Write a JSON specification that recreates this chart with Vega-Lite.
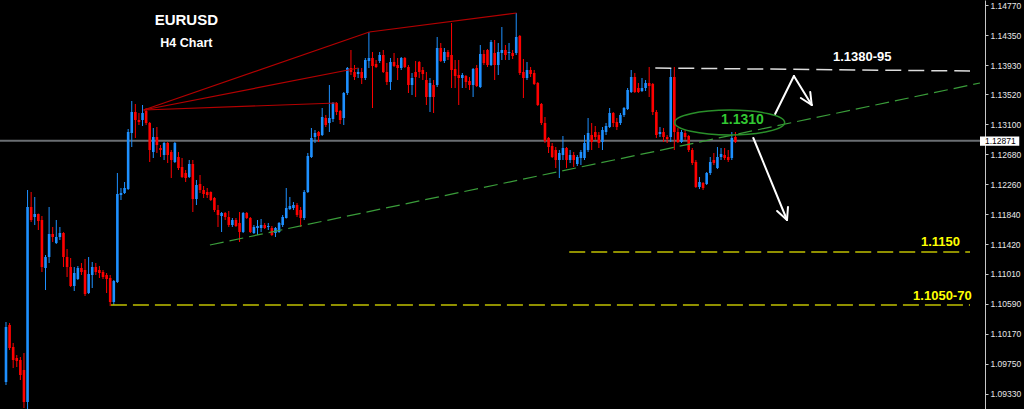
{
"$schema":"https://vega.github.io/schema/vega-lite/v6.json",
"width":985,"height":409,"autosize":"none",
"padding":{"left":0,"top":0,"right":39,"bottom":0},
"background":"#000000",
"config":{"view":{"stroke":null},"axis":{"grid":false,"domainColor":"#c8c8c8","tickColor":"#c8c8c8","tickSize":3,"labelPadding":2,"labelColor":"#e8e8e8","labelFont":"Liberation Sans","labelFontSize":8.5,"labelFlush":false,"labelOverlap":false,"title":null}},
"datasets":{
"candles":[
{"i":1,"o":1.09492,"h":1.10332,"l":1.0945,"c":1.10262},
{"i":2,"o":1.1029,"h":1.10318,"l":1.0994,"c":1.09968},
{"i":3,"o":1.09982,"h":1.10038,"l":1.09688,"c":1.098},
{"i":4,"o":1.09828,"h":1.0987,"l":1.09702,"c":1.09786},
{"i":5,"o":1.098,"h":1.09842,"l":1.0952,"c":1.0959},
{"i":6,"o":1.0966,"h":1.09898,"l":1.09128,"c":1.09212},
{"i":7,"o":1.09212,"h":1.1218,"l":1.091,"c":1.11942},
{"i":8,"o":1.11942,"h":1.12152,"l":1.11732,"c":1.1176},
{"i":9,"o":1.11802,"h":1.12082,"l":1.1169,"c":1.11844},
{"i":10,"o":1.11844,"h":1.1185,"l":1.1162,"c":1.11746},
{"i":11,"o":1.1176,"h":1.11816,"l":1.11032,"c":1.11102},
{"i":12,"o":1.11088,"h":1.1127,"l":1.1078,"c":1.11242},
{"i":13,"o":1.11242,"h":1.11942,"l":1.11158,"c":1.11564},
{"i":14,"o":1.11564,"h":1.11662,"l":1.11452,"c":1.11522},
{"i":15,"o":1.11438,"h":1.1176,"l":1.11424,"c":1.11522},
{"i":16,"o":1.11522,"h":1.11662,"l":1.1148,"c":1.11578},
{"i":17,"o":1.11578,"h":1.1159,"l":1.11102,"c":1.11242},
{"i":18,"o":1.11242,"h":1.11354,"l":1.10962,"c":1.11102},
{"i":19,"o":1.11102,"h":1.11228,"l":1.10822,"c":1.10836},
{"i":20,"o":1.10836,"h":1.11102,"l":1.10766,"c":1.11018},
{"i":21,"o":1.10934,"h":1.11116,"l":1.1092,"c":1.11088},
{"i":22,"o":1.11088,"h":1.11158,"l":1.1099,"c":1.11032},
{"i":23,"o":1.1106,"h":1.11214,"l":1.10696,"c":1.10724},
{"i":24,"o":1.10738,"h":1.11242,"l":1.10724,"c":1.11004},
{"i":25,"o":1.1099,"h":1.11172,"l":1.10808,"c":1.11102},
{"i":26,"o":1.11102,"h":1.11158,"l":1.1099,"c":1.11032},
{"i":27,"o":1.1106,"h":1.11116,"l":1.10948,"c":1.11018},
{"i":28,"o":1.11032,"h":1.1106,"l":1.10934,"c":1.10962},
{"i":29,"o":1.1099,"h":1.11018,"l":1.10738,"c":1.10934},
{"i":30,"o":1.10948,"h":1.1099,"l":1.10556,"c":1.10612},
{"i":31,"o":1.10612,"h":1.1092,"l":1.1057,"c":1.10906},
{"i":32,"o":1.10892,"h":1.12418,"l":1.10878,"c":1.12124},
{"i":33,"o":1.1211,"h":1.12208,"l":1.1204,"c":1.12138},
{"i":34,"o":1.12138,"h":1.12292,"l":1.12124,"c":1.12208},
{"i":35,"o":1.12194,"h":1.13034,"l":1.1218,"c":1.12992},
{"i":36,"o":1.12978,"h":1.13426,"l":1.12782,"c":1.13272},
{"i":37,"o":1.13272,"h":1.13384,"l":1.12908,"c":1.1316},
{"i":38,"o":1.1316,"h":1.13258,"l":1.1309,"c":1.13132},
{"i":39,"o":1.1316,"h":1.1337,"l":1.13076,"c":1.13258},
{"i":40,"o":1.13286,"h":1.13328,"l":1.1309,"c":1.13118},
{"i":41,"o":1.13118,"h":1.13132,"l":1.12572,"c":1.1274},
{"i":42,"o":1.12712,"h":1.13048,"l":1.12628,"c":1.12922},
{"i":43,"o":1.12922,"h":1.13062,"l":1.12698,"c":1.1281},
{"i":44,"o":1.12768,"h":1.1281,"l":1.12642,"c":1.1274},
{"i":45,"o":1.1267,"h":1.12852,"l":1.126,"c":1.12838},
{"i":46,"o":1.12838,"h":1.12852,"l":1.12558,"c":1.1267},
{"i":47,"o":1.12712,"h":1.1274,"l":1.12348,"c":1.126},
{"i":48,"o":1.12572,"h":1.12852,"l":1.12558,"c":1.12838},
{"i":49,"o":1.12642,"h":1.12712,"l":1.1246,"c":1.12488},
{"i":50,"o":1.12502,"h":1.12628,"l":1.12348,"c":1.12362},
{"i":51,"o":1.12418,"h":1.1246,"l":1.12292,"c":1.12348},
{"i":52,"o":1.12362,"h":1.126,"l":1.12348,"c":1.12544},
{"i":53,"o":1.12544,"h":1.126,"l":1.11872,"c":1.12054},
{"i":54,"o":1.12054,"h":1.1232,"l":1.1197,"c":1.1225},
{"i":55,"o":1.12264,"h":1.1239,"l":1.12138,"c":1.1218},
{"i":56,"o":1.1218,"h":1.12236,"l":1.12068,"c":1.12124},
{"i":57,"o":1.12152,"h":1.12208,"l":1.12068,"c":1.1211},
{"i":58,"o":1.12152,"h":1.1216,"l":1.12026,"c":1.1204},
{"i":59,"o":1.12068,"h":1.12082,"l":1.11872,"c":1.119},
{"i":60,"o":1.119,"h":1.1197,"l":1.11662,"c":1.1183},
{"i":61,"o":1.11816,"h":1.11872,"l":1.11592,"c":1.11858},
{"i":62,"o":1.11858,"h":1.11872,"l":1.1176,"c":1.11802},
{"i":63,"o":1.11802,"h":1.11886,"l":1.11662,"c":1.1169},
{"i":64,"o":1.1169,"h":1.11788,"l":1.11662,"c":1.1176},
{"i":65,"o":1.1176,"h":1.11788,"l":1.11662,"c":1.11676},
{"i":66,"o":1.11718,"h":1.11872,"l":1.11452,"c":1.11592},
{"i":67,"o":1.11592,"h":1.11872,"l":1.11578,"c":1.11858},
{"i":68,"o":1.11858,"h":1.11872,"l":1.11774,"c":1.11788},
{"i":69,"o":1.11788,"h":1.11802,"l":1.11578,"c":1.11592},
{"i":70,"o":1.11578,"h":1.1169,"l":1.11564,"c":1.11662},
{"i":71,"o":1.11648,"h":1.1176,"l":1.1155,"c":1.11676},
{"i":72,"o":1.11648,"h":1.11774,"l":1.11592,"c":1.1169},
{"i":73,"o":1.1169,"h":1.11718,"l":1.11634,"c":1.11648},
{"i":74,"o":1.11662,"h":1.11718,"l":1.1162,"c":1.11676},
{"i":75,"o":1.11648,"h":1.11676,"l":1.11536,"c":1.1155},
{"i":76,"o":1.11578,"h":1.11662,"l":1.11522,"c":1.11648},
{"i":77,"o":1.11592,"h":1.11732,"l":1.1158,"c":1.11718},
{"i":78,"o":1.1169,"h":1.1183,"l":1.11662,"c":1.11802},
{"i":79,"o":1.11788,"h":1.12208,"l":1.1178,"c":1.11928},
{"i":80,"o":1.11914,"h":1.12082,"l":1.119,"c":1.11956},
{"i":81,"o":1.11928,"h":1.12012,"l":1.119,"c":1.1197},
{"i":82,"o":1.1197,"h":1.11998,"l":1.11802,"c":1.1183},
{"i":83,"o":1.119,"h":1.11942,"l":1.11662,"c":1.11788},
{"i":84,"o":1.11788,"h":1.1218,"l":1.1176,"c":1.12152},
{"i":85,"o":1.12152,"h":1.12698,"l":1.12138,"c":1.12656},
{"i":86,"o":1.12642,"h":1.13048,"l":1.12628,"c":1.12908},
{"i":87,"o":1.12922,"h":1.1302,"l":1.12838,"c":1.12978},
{"i":88,"o":1.12992,"h":1.13006,"l":1.12852,"c":1.12936},
{"i":89,"o":1.1295,"h":1.13328,"l":1.12936,"c":1.13202},
{"i":90,"o":1.13188,"h":1.1323,"l":1.13062,"c":1.1309},
{"i":91,"o":1.13118,"h":1.1365,"l":1.12992,"c":1.13188},
{"i":92,"o":1.13174,"h":1.13412,"l":1.13132,"c":1.13398},
{"i":93,"o":1.13398,"h":1.13412,"l":1.1323,"c":1.13272},
{"i":94,"o":1.13286,"h":1.133,"l":1.13104,"c":1.1316},
{"i":95,"o":1.13188,"h":1.13552,"l":1.1309,"c":1.13538},
{"i":96,"o":1.13538,"h":1.13902,"l":1.1351,"c":1.13888},
{"i":97,"o":1.13888,"h":1.1414,"l":1.1379,"c":1.13832},
{"i":98,"o":1.13832,"h":1.1393,"l":1.1372,"c":1.13762},
{"i":99,"o":1.13804,"h":1.13888,"l":1.13748,"c":1.13832},
{"i":100,"o":1.13832,"h":1.13888,"l":1.13664,"c":1.13748},
{"i":101,"o":1.13748,"h":1.14028,"l":1.1372,"c":1.14},
{"i":102,"o":1.13986,"h":1.14392,"l":1.13888,"c":1.14028},
{"i":103,"o":1.14028,"h":1.14112,"l":1.13328,"c":1.13916},
{"i":104,"o":1.13944,"h":1.14,"l":1.13888,"c":1.13902},
{"i":105,"o":1.13986,"h":1.14112,"l":1.13958,"c":1.1407},
{"i":106,"o":1.1407,"h":1.1414,"l":1.13818,"c":1.13832},
{"i":107,"o":1.13832,"h":1.13958,"l":1.1365,"c":1.13692},
{"i":108,"o":1.13692,"h":1.14028,"l":1.1358,"c":1.13972},
{"i":109,"o":1.13972,"h":1.14098,"l":1.13902,"c":1.13916},
{"i":110,"o":1.1393,"h":1.14028,"l":1.1372,"c":1.13888},
{"i":111,"o":1.13888,"h":1.14042,"l":1.1386,"c":1.14028},
{"i":112,"o":1.14028,"h":1.14042,"l":1.13888,"c":1.13902},
{"i":113,"o":1.13902,"h":1.1393,"l":1.13538,"c":1.1365},
{"i":114,"o":1.1365,"h":1.13818,"l":1.1351,"c":1.13748},
{"i":115,"o":1.13832,"h":1.13986,"l":1.13482,"c":1.13762},
{"i":116,"o":1.13972,"h":1.13986,"l":1.13748,"c":1.13832},
{"i":117,"o":1.1386,"h":1.13902,"l":1.1372,"c":1.13804},
{"i":118,"o":1.1372,"h":1.13832,"l":1.1337,"c":1.13482},
{"i":119,"o":1.13482,"h":1.13748,"l":1.13272,"c":1.13678},
{"i":120,"o":1.1365,"h":1.1372,"l":1.13258,"c":1.13482},
{"i":121,"o":1.1365,"h":1.14322,"l":1.13622,"c":1.14168},
{"i":122,"o":1.14168,"h":1.14238,"l":1.13972,"c":1.13986},
{"i":123,"o":1.13986,"h":1.14168,"l":1.13958,"c":1.14112},
{"i":124,"o":1.14112,"h":1.1414,"l":1.14,"c":1.14042},
{"i":125,"o":1.1407,"h":1.14518,"l":1.13608,"c":1.1386},
{"i":126,"o":1.13874,"h":1.14,"l":1.13608,"c":1.13776},
{"i":127,"o":1.1379,"h":1.14,"l":1.1337,"c":1.13748},
{"i":128,"o":1.13748,"h":1.13818,"l":1.13608,"c":1.1379},
{"i":129,"o":1.13776,"h":1.1379,"l":1.13608,"c":1.13692},
{"i":130,"o":1.13706,"h":1.13762,"l":1.1358,"c":1.1365},
{"i":131,"o":1.1365,"h":1.13888,"l":1.13482,"c":1.13874},
{"i":132,"o":1.13888,"h":1.1393,"l":1.13622,"c":1.13636},
{"i":133,"o":1.13622,"h":1.1421,"l":1.13608,"c":1.14084},
{"i":134,"o":1.14084,"h":1.1414,"l":1.1393,"c":1.13958},
{"i":135,"o":1.1414,"h":1.14154,"l":1.13902,"c":1.1393},
{"i":136,"o":1.1393,"h":1.1428,"l":1.13916,"c":1.14252},
{"i":137,"o":1.14098,"h":1.1428,"l":1.1372,"c":1.1393},
{"i":138,"o":1.1393,"h":1.14238,"l":1.1379,"c":1.14112},
{"i":139,"o":1.14098,"h":1.14462,"l":1.14,"c":1.1414},
{"i":140,"o":1.1414,"h":1.1421,"l":1.14,"c":1.1407},
{"i":141,"o":1.14098,"h":1.14238,"l":1.14,"c":1.14112},
{"i":142,"o":1.14098,"h":1.1414,"l":1.14014,"c":1.14056},
{"i":143,"o":1.14098,"h":1.14658,"l":1.1407,"c":1.14322},
{"i":144,"o":1.14336,"h":1.1435,"l":1.1379,"c":1.13818},
{"i":145,"o":1.13832,"h":1.14014,"l":1.13468,"c":1.13748},
{"i":146,"o":1.13748,"h":1.13972,"l":1.1372,"c":1.1386},
{"i":147,"o":1.1386,"h":1.13902,"l":1.13762,"c":1.13804},
{"i":148,"o":1.13818,"h":1.1386,"l":1.1365,"c":1.13664},
{"i":149,"o":1.13678,"h":1.13692,"l":1.13356,"c":1.1337},
{"i":150,"o":1.13384,"h":1.13398,"l":1.1309,"c":1.13118},
{"i":151,"o":1.13118,"h":1.13202,"l":1.12838,"c":1.12866},
{"i":152,"o":1.12908,"h":1.12922,"l":1.12698,"c":1.12782},
{"i":153,"o":1.12796,"h":1.12838,"l":1.12628,"c":1.12642},
{"i":154,"o":1.1274,"h":1.12782,"l":1.12488,"c":1.126},
{"i":155,"o":1.126,"h":1.1274,"l":1.12348,"c":1.12698},
{"i":156,"o":1.1267,"h":1.12936,"l":1.126,"c":1.12768},
{"i":157,"o":1.12768,"h":1.12782,"l":1.12488,"c":1.126},
{"i":158,"o":1.126,"h":1.1274,"l":1.12558,"c":1.1267},
{"i":159,"o":1.1267,"h":1.12712,"l":1.12502,"c":1.126},
{"i":160,"o":1.12544,"h":1.1267,"l":1.12516,"c":1.12642},
{"i":161,"o":1.12628,"h":1.1274,"l":1.1253,"c":1.12712},
{"i":162,"o":1.12628,"h":1.1295,"l":1.126,"c":1.12838},
{"i":163,"o":1.1274,"h":1.13188,"l":1.12712,"c":1.12978},
{"i":164,"o":1.1295,"h":1.13118,"l":1.1274,"c":1.12852},
{"i":165,"o":1.12992,"h":1.13076,"l":1.1288,"c":1.12922},
{"i":166,"o":1.1295,"h":1.12992,"l":1.12768,"c":1.12838},
{"i":167,"o":1.12852,"h":1.13062,"l":1.1274,"c":1.1302},
{"i":168,"o":1.12992,"h":1.13118,"l":1.1295,"c":1.13076},
{"i":169,"o":1.13062,"h":1.13328,"l":1.13048,"c":1.13258},
{"i":170,"o":1.13258,"h":1.13272,"l":1.13062,"c":1.13118},
{"i":171,"o":1.13132,"h":1.13188,"l":1.1302,"c":1.13062},
{"i":172,"o":1.13118,"h":1.13258,"l":1.1309,"c":1.1323},
{"i":173,"o":1.1323,"h":1.13342,"l":1.13202,"c":1.13328},
{"i":174,"o":1.13314,"h":1.13608,"l":1.133,"c":1.1358},
{"i":175,"o":1.13552,"h":1.1386,"l":1.13538,"c":1.13762},
{"i":176,"o":1.13762,"h":1.13818,"l":1.13538,"c":1.13552},
{"i":177,"o":1.13608,"h":1.13678,"l":1.13538,"c":1.13552},
{"i":178,"o":1.13566,"h":1.13748,"l":1.13552,"c":1.13608},
{"i":179,"o":1.13608,"h":1.1372,"l":1.13566,"c":1.13678},
{"i":180,"o":1.13678,"h":1.13902,"l":1.13482,"c":1.13636},
{"i":181,"o":1.13664,"h":1.13678,"l":1.1323,"c":1.13272},
{"i":182,"o":1.13272,"h":1.133,"l":1.12908,"c":1.1295},
{"i":183,"o":1.12964,"h":1.13062,"l":1.12922,"c":1.12992},
{"i":184,"o":1.12992,"h":1.13048,"l":1.12852,"c":1.12922},
{"i":185,"o":1.12922,"h":1.1295,"l":1.12838,"c":1.12894},
{"i":186,"o":1.12922,"h":1.13888,"l":1.12852,"c":1.13762},
{"i":187,"o":1.13762,"h":1.13902,"l":1.1274,"c":1.12992},
{"i":188,"o":1.12992,"h":1.13048,"l":1.12838,"c":1.12852},
{"i":189,"o":1.12852,"h":1.1302,"l":1.12838,"c":1.12992},
{"i":190,"o":1.12978,"h":1.1302,"l":1.1288,"c":1.12922},
{"i":191,"o":1.12936,"h":1.1295,"l":1.12712,"c":1.1274},
{"i":192,"o":1.1274,"h":1.12768,"l":1.1253,"c":1.12558},
{"i":193,"o":1.12572,"h":1.126,"l":1.12208,"c":1.12222},
{"i":194,"o":1.12222,"h":1.12362,"l":1.12194,"c":1.12292},
{"i":195,"o":1.12278,"h":1.12292,"l":1.1218,"c":1.12208},
{"i":196,"o":1.12264,"h":1.12432,"l":1.1225,"c":1.12418},
{"i":197,"o":1.12418,"h":1.12642,"l":1.1239,"c":1.12572},
{"i":198,"o":1.126,"h":1.12698,"l":1.1253,"c":1.12558},
{"i":199,"o":1.12488,"h":1.12782,"l":1.12474,"c":1.12642},
{"i":200,"o":1.12642,"h":1.12768,"l":1.126,"c":1.12684},
{"i":201,"o":1.1267,"h":1.12768,"l":1.126,"c":1.12628},
{"i":202,"o":1.12642,"h":1.1274,"l":1.12572,"c":1.126},
{"i":203,"o":1.12628,"h":1.12992,"l":1.126,"c":1.12908},
{"i":204,"o":1.12922,"h":1.12992,"l":1.12838,"c":1.12852}
],
"fan":[
{"x":39.3,"y":1.1330,"x2":102.1,"y2":1.14392},
{"x":102.1,"y":1.14392,"x2":143.1,"y2":1.14658},
{"x":39.3,"y":1.1330,"x2":99.1,"y2":1.13888},
{"x":39.3,"y":1.1330,"x2":93.0,"y2":1.13398}
],
"trend":[{"x":57.75,"y":1.1141,"x2":272.07,"y2":1.13678}],
"resist":[{"x":181.7,"y":1.13888,"x2":269.3,"y2":1.13846}],
"support":[
{"x":157.75,"y":1.11312,"x2":269.3,"y2":1.11312},
{"x":30.2,"y":1.1057,"x2":269.3,"y2":1.1057}
],
"arrows":[
{"x":215.05,"y":1.13244,"x2":220.28,"y2":1.13776},
{"x":220.28,"y":1.13776,"x2":225.24,"y2":1.1337},
{"x":225.24,"y":1.1337,"x2":224.83,"y2":1.13552},
{"x":225.24,"y":1.1337,"x2":222.21,"y2":1.13468},
{"x":208.99,"y":1.12908,"x2":218.36,"y2":1.1176},
{"x":218.36,"y":1.1176,"x2":218.63,"y2":1.11942},
{"x":218.36,"y":1.1176,"x2":215.6,"y2":1.11886}
]
},
"layer":[
{"data":{"values":[{"p":1.12871}]},"mark":{"type":"rule","color":"#6a6e72","strokeWidth":2},
 "encoding":{"y":{"field":"p","type":"quantitative","scale":{"domain":[1.09114,1.1484],"nice":false,"zero":false},"axis":{"orient":"right","values":[1.1477,1.1435,1.1393,1.1352,1.131,1.1268,1.1226,1.1184,1.1142,1.1101,1.1059,1.1017,1.0975,1.0933],"format":".5f"}}}},
{"data":{"name":"candles"},"mark":{"type":"rule","strokeWidth":1,"clip":true},
 "encoding":{
  "x":{"field":"i","type":"quantitative","scale":{"domain":[0.7245,272.07],"nice":false,"zero":false},"axis":null},
  "y":{"field":"l","type":"quantitative","scale":{"domain":[1.09114,1.1484],"nice":false,"zero":false},"axis":{"orient":"right","values":[1.1477,1.1435,1.1393,1.1352,1.131,1.1268,1.1226,1.1184,1.1142,1.1101,1.1059,1.1017,1.0975,1.0933],"format":".5f"}},
  "y2":{"field":"h"},
  "color":{"condition":{"test":"datum.c < datum.o","value":"#ff0000"},"value":"#1e90ff"}}},
{"data":{"name":"candles"},"mark":{"type":"bar","size":2.6,"clip":true},
 "encoding":{
  "x":{"field":"i","type":"quantitative","scale":{"domain":[0.7245,272.07],"nice":false,"zero":false},"axis":null},
  "y":{"field":"o","type":"quantitative","scale":{"domain":[1.09114,1.1484],"nice":false,"zero":false},"axis":{"orient":"right","values":[1.1477,1.1435,1.1393,1.1352,1.131,1.1268,1.1226,1.1184,1.1142,1.1101,1.1059,1.1017,1.0975,1.0933],"format":".5f"}},
  "y2":{"field":"c"},
  "color":{"condition":{"test":"datum.c < datum.o","value":"#ff0000"},"value":"#1e90ff"}}},
{"data":{"name":"fan"},"mark":{"type":"rule","color":"#b40000","strokeWidth":1.2},
 "encoding":{
  "x":{"field":"x","type":"quantitative","scale":{"domain":[0.7245,272.07],"nice":false,"zero":false},"axis":null},
  "x2":{"field":"x2"},
  "y":{"field":"y","type":"quantitative","scale":{"domain":[1.09114,1.1484],"nice":false,"zero":false},"axis":{"orient":"right","values":[1.1477,1.1435,1.1393,1.1352,1.131,1.1268,1.1226,1.1184,1.1142,1.1101,1.1059,1.1017,1.0975,1.0933],"format":".5f"}},
  "y2":{"field":"y2"}}},
{"data":{"name":"trend"},"mark":{"type":"rule","color":"#3a9d3a","strokeWidth":1.2,"strokeDash":[14,6]},
 "encoding":{
  "x":{"field":"x","type":"quantitative","scale":{"domain":[0.7245,272.07],"nice":false,"zero":false},"axis":null},
  "x2":{"field":"x2"},
  "y":{"field":"y","type":"quantitative","scale":{"domain":[1.09114,1.1484],"nice":false,"zero":false},"axis":{"orient":"right","values":[1.1477,1.1435,1.1393,1.1352,1.131,1.1268,1.1226,1.1184,1.1142,1.1101,1.1059,1.1017,1.0975,1.0933],"format":".5f"}},
  "y2":{"field":"y2"}}},
{"data":{"name":"resist"},"mark":{"type":"rule","color":"#dcdcdc","strokeWidth":1.5,"strokeDash":[16,7]},
 "encoding":{
  "x":{"field":"x","type":"quantitative","scale":{"domain":[0.7245,272.07],"nice":false,"zero":false},"axis":null},
  "x2":{"field":"x2"},
  "y":{"field":"y","type":"quantitative","scale":{"domain":[1.09114,1.1484],"nice":false,"zero":false},"axis":{"orient":"right","values":[1.1477,1.1435,1.1393,1.1352,1.131,1.1268,1.1226,1.1184,1.1142,1.1101,1.1059,1.1017,1.0975,1.0933],"format":".5f"}},
  "y2":{"field":"y2"}}},
{"data":{"name":"support"},"mark":{"type":"rule","color":"#c0c000","strokeWidth":1.5,"strokeDash":[16,6]},
 "encoding":{
  "x":{"field":"x","type":"quantitative","scale":{"domain":[0.7245,272.07],"nice":false,"zero":false},"axis":null},
  "x2":{"field":"x2"},
  "y":{"field":"y","type":"quantitative","scale":{"domain":[1.09114,1.1484],"nice":false,"zero":false},"axis":{"orient":"right","values":[1.1477,1.1435,1.1393,1.1352,1.131,1.1268,1.1226,1.1184,1.1142,1.1101,1.1059,1.1017,1.0975,1.0933],"format":".5f"}},
  "y2":{"field":"y2"}}},
{"data":{"name":"arrows"},"mark":{"type":"rule","color":"#ffffff","strokeWidth":2,"strokeCap":"round"},
 "encoding":{
  "x":{"field":"x","type":"quantitative","scale":{"domain":[0.7245,272.07],"nice":false,"zero":false},"axis":null},
  "x2":{"field":"x2"},
  "y":{"field":"y","type":"quantitative","scale":{"domain":[1.09114,1.1484],"nice":false,"zero":false},"axis":{"orient":"right","values":[1.1477,1.1435,1.1393,1.1352,1.131,1.1268,1.1226,1.1184,1.1142,1.1101,1.1059,1.1017,1.0975,1.0933],"format":".5f"}},
  "y2":{"field":"y2"}}},
{"data":{"values":[{"x":202.4,"y":1.13125}]},
 "mark":{"type":"point","filled":false,"stroke":"#2a8f2a","strokeWidth":1.5,"opacity":1,"size":12100,
  "shape":"M-1,0C-1,-0.125,-0.552,-0.227,0,-0.227C0.552,-0.227,1,-0.125,1,0C1,0.125,0.552,0.227,0,0.227C-0.552,0.227,-1,0.125,-1,0Z"},
 "encoding":{
  "x":{"field":"x","type":"quantitative","scale":{"domain":[0.7245,272.07],"nice":false,"zero":false},"axis":null},
  "y":{"field":"y","type":"quantitative","scale":{"domain":[1.09114,1.1484],"nice":false,"zero":false},"axis":{"orient":"right","values":[1.1477,1.1435,1.1393,1.1352,1.131,1.1268,1.1226,1.1184,1.1142,1.1101,1.1059,1.1017,1.0975,1.0933],"format":".5f"}}}},
{"data":{"values":[{"x":272.07,"x2":283,"y":1.12928,"y2":1.128}]},
 "mark":{"type":"rect","color":"#ffffff"},
 "encoding":{
  "x":{"field":"x","type":"quantitative","scale":{"domain":[0.7245,272.07],"nice":false,"zero":false},"axis":null},
  "x2":{"field":"x2"},
  "y":{"field":"y","type":"quantitative","scale":{"domain":[1.09114,1.1484],"nice":false,"zero":false},"axis":{"orient":"right","values":[1.1477,1.1435,1.1393,1.1352,1.131,1.1268,1.1226,1.1184,1.1142,1.1101,1.1059,1.1017,1.0975,1.0933],"format":".5f"}},
  "y2":{"field":"y2"}}},
{"data":{"values":[{"t":"1.12871","x":273.46,"y":1.12864}]},
 "mark":{"type":"text","color":"#000000","font":"Liberation Sans","fontSize":8.5,"align":"left","baseline":"middle"},
 "encoding":{
  "x":{"field":"x","type":"quantitative","scale":{"domain":[0.7245,272.07],"nice":false,"zero":false},"axis":null},
  "y":{"field":"y","type":"quantitative","scale":{"domain":[1.09114,1.1484],"nice":false,"zero":false},"axis":{"orient":"right","values":[1.1477,1.1435,1.1393,1.1352,1.131,1.1268,1.1226,1.1184,1.1142,1.1101,1.1059,1.1017,1.0975,1.0933],"format":".5f"}},
  "text":{"field":"t"}}},
{"data":{"values":[{"t":"EURUSD","x":51.2,"y":1.14567,"s":15},{"t":"H4 Chart","x":51.2,"y":1.14245,"s":12.5},{"t":"1.1380-95","x":239.3,"y":1.14042,"s":13}]},
 "mark":{"type":"text","color":"#ffffff","font":"Liberation Sans","fontWeight":"bold","align":"center","baseline":"middle"},
 "encoding":{
  "x":{"field":"x","type":"quantitative","scale":{"domain":[0.7245,272.07],"nice":false,"zero":false},"axis":null},
  "y":{"field":"y","type":"quantitative","scale":{"domain":[1.09114,1.1484],"nice":false,"zero":false},"axis":{"orient":"right","values":[1.1477,1.1435,1.1393,1.1352,1.131,1.1268,1.1226,1.1184,1.1142,1.1101,1.1059,1.1017,1.0975,1.0933],"format":".5f"}},
  "size":{"field":"s","type":"quantitative","scale":null,"legend":null},
  "text":{"field":"t"}}},
{"data":{"values":[{"t":"1.1150","x":261.06,"y":1.11452},{"t":"1.1050-70","x":261.6,"y":1.10696}]},
 "mark":{"type":"text","color":"#ffff00","font":"Liberation Sans","fontWeight":"bold","fontSize":13,"align":"center","baseline":"middle"},
 "encoding":{
  "x":{"field":"x","type":"quantitative","scale":{"domain":[0.7245,272.07],"nice":false,"zero":false},"axis":null},
  "y":{"field":"y","type":"quantitative","scale":{"domain":[1.09114,1.1484],"nice":false,"zero":false},"axis":{"orient":"right","values":[1.1477,1.1435,1.1393,1.1352,1.131,1.1268,1.1226,1.1184,1.1142,1.1101,1.1059,1.1017,1.0975,1.0933],"format":".5f"}},
  "text":{"field":"t"}}},
{"data":{"values":[{"t":"1.1310","x":205.96,"y":1.1316}]},
 "mark":{"type":"text","color":"#32c832","font":"Liberation Sans","fontWeight":"bold","fontSize":14,"align":"center","baseline":"middle"},
 "encoding":{
  "x":{"field":"x","type":"quantitative","scale":{"domain":[0.7245,272.07],"nice":false,"zero":false},"axis":null},
  "y":{"field":"y","type":"quantitative","scale":{"domain":[1.09114,1.1484],"nice":false,"zero":false},"axis":{"orient":"right","values":[1.1477,1.1435,1.1393,1.1352,1.131,1.1268,1.1226,1.1184,1.1142,1.1101,1.1059,1.1017,1.0975,1.0933],"format":".5f"}},
  "text":{"field":"t"}}}
]
}
